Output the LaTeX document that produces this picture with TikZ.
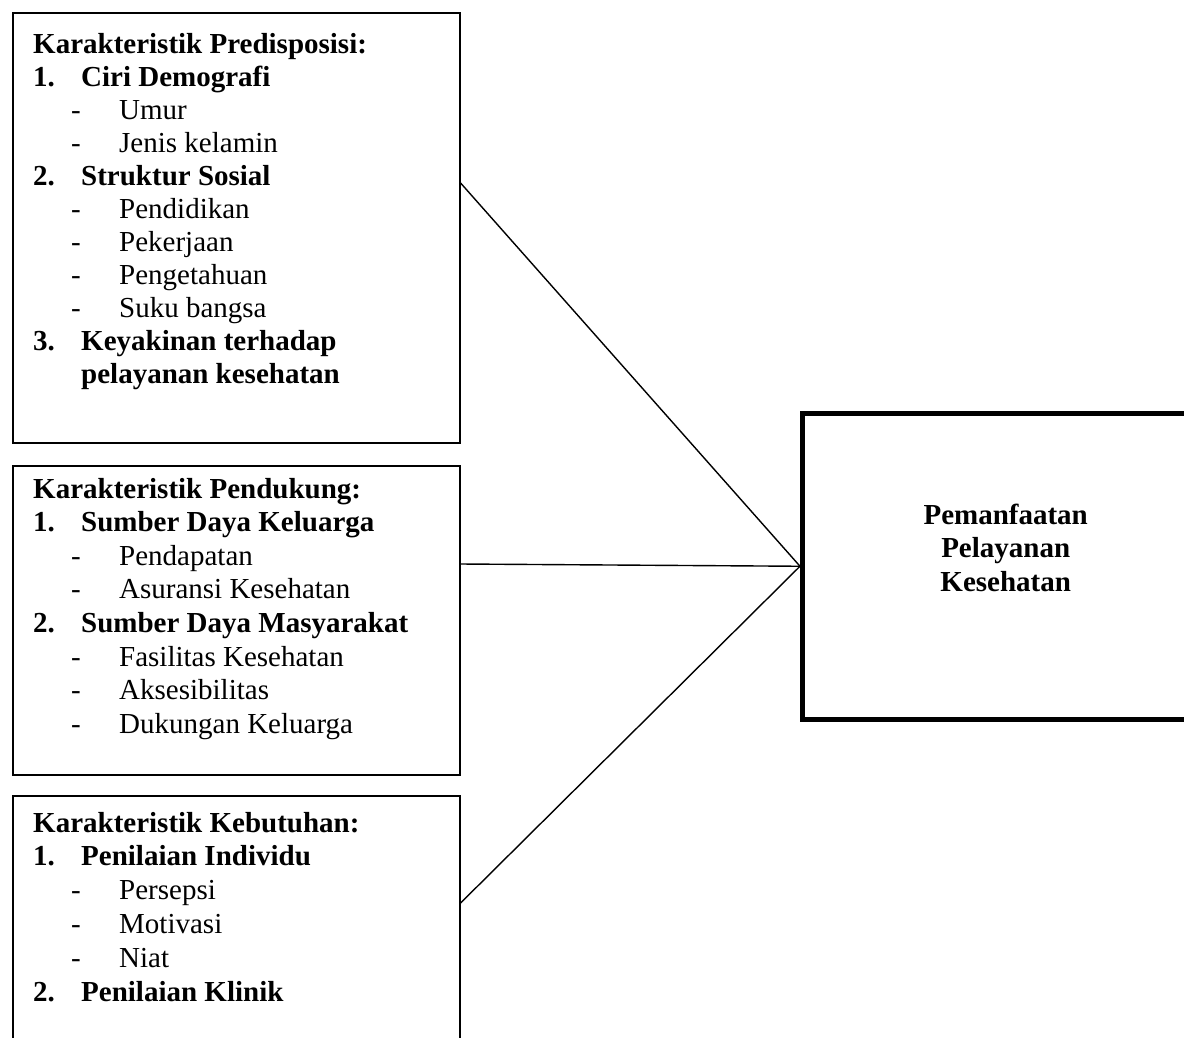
\documentclass[tikz,border=0pt]{standalone}
\usepackage{fontspec}
\setmainfont{Liberation Serif}
\newcommand\hd[1]{\hbox{\bfseries #1}}
\newcommand\itm[2]{\hbox{\bfseries\makebox[48pt][l]{#1}#2}}
\newcommand\sbi[1]{\hbox{\hspace*{38pt}\makebox[48pt][l]{-}#1}}
\newcommand\cont[1]{\hbox{\bfseries\hspace*{48pt}#1}}
\newcommand\ctr[1]{\hbox to 0pt{\hss\bfseries #1\hss}}
\begin{document}
\begin{tikzpicture}[x=1pt,y=-1pt,
  box/.style={draw, line width=1.6pt, inner sep=0pt, anchor=north west},
  bigbox/.style={draw, line width=4.5pt, inner sep=0pt, anchor=north west},
  txt/.style={inner sep=0pt, anchor=base west, font=\fontsize{29}{33}\selectfont},
  conn/.style={line width=1.4pt}]
\useasboundingbox (0,0) rectangle (1184,1037);
\clip (0,0) rectangle (1184,1037);
\node[box, minimum width=447pt, minimum height=430pt] (b1) at (12,12) {};
\node[box, minimum width=447pt, minimum height=309pt] (b2) at (12,465) {};
\node[box, minimum width=447pt, minimum height=280pt] (b3) at (12,795) {};
\node[bigbox, minimum width=420pt, minimum height=306pt] (c) at (800,411) {};
\node[txt] (t1) at (33,53) {\vtop{\baselineskip=33pt
  \hd{Karakteristik Predisposisi:}
  \itm{1.}{Ciri Demografi}
  \sbi{Umur}
  \sbi{Jenis kelamin}
  \itm{2.}{Struktur Sosial}
  \sbi{Pendidikan}
  \sbi{Pekerjaan}
  \sbi{Pengetahuan}
  \sbi{Suku bangsa}
  \itm{3.}{Keyakinan terhadap}
  \cont{pelayanan kesehatan}}};
\node[txt] (t2) at (33,498) {\vtop{\baselineskip=33.6pt
  \hd{Karakteristik Pendukung:}
  \itm{1.}{Sumber Daya Keluarga}
  \sbi{Pendapatan}
  \sbi{Asuransi Kesehatan}
  \itm{2.}{Sumber Daya Masyarakat}
  \sbi{Fasilitas Kesehatan}
  \sbi{Aksesibilitas}
  \sbi{Dukungan Keluarga}}};
\node[txt] (t3) at (33,832) {\vtop{\baselineskip=33.8pt
  \hd{Karakteristik Kebutuhan:}
  \itm{1.}{Penilaian Individu}
  \sbi{Persepsi}
  \sbi{Motivasi}
  \sbi{Niat}
  \itm{2.}{Penilaian Klinik}}};
\node[txt] (tc) at (1005,524) {\vtop{\baselineskip=33.5pt
  \ctr{Pemanfaatan}
  \ctr{Pelayanan}
  \ctr{Kesehatan}}};
\draw[conn] ([yshift=-171pt]b1.north east) -- (c.west);
\draw[conn] ([yshift=-99pt]b2.north east) -- (c.west);
\draw[conn] ([yshift=-108pt]b3.north east) -- (c.west);
\end{tikzpicture}
\end{document}
